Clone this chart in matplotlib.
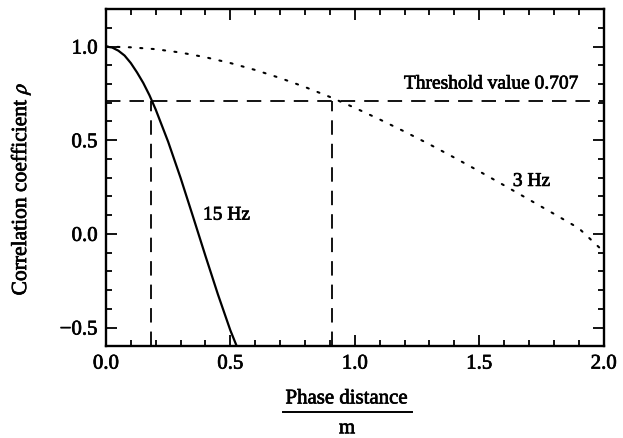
import numpy as np
import matplotlib
matplotlib.use("Agg")
import matplotlib.pyplot as plt
import matplotlib.patheffects as pe
from matplotlib.lines import Line2D
from matplotlib.ticker import MultipleLocator

plt.rcParams['font.family'] = ['Liberation Serif', 'DejaVu Serif']
plt.rcParams['mathtext.fontset'] = 'stix'

# 3 Hz curve (dotted)
x_3hz = [0.0, 0.1, 0.2, 0.3, 0.4, 0.5, 0.6, 0.7, 0.8, 0.9, 1.0,
         1.1, 1.2, 1.3, 1.4, 1.5, 1.6, 1.7, 1.8, 1.9, 2.0]
rho_3hz = [1.0, 0.996, 0.986, 0.968, 0.943, 0.912, 0.875, 0.832, 0.784, 0.731, 0.673,
           0.611, 0.546, 0.478, 0.407, 0.334, 0.259, 0.183, 0.107, 0.030, -0.095]

# 15 Hz curve (solid)
x_15hz = [0.0, 0.025, 0.05, 0.075, 0.1, 0.125, 0.15, 0.175, 0.2, 0.25,
          0.3, 0.35, 0.4, 0.45, 0.5, 0.55]
rho_15hz = [1.0, 0.995, 0.978, 0.952, 0.912, 0.862, 0.806, 0.740, 0.664, 0.492,
            0.299, 0.092, -0.118, -0.323, -0.515, -0.68]

threshold = 0.707
cross_x = [0.182, 0.91]   # where each curve meets the threshold

# scanned print looks heavier, thicken the glyphs a little
ink = [pe.withStroke(linewidth=0.5, foreground='black')]

fig = plt.figure(figsize=(6.23, 4.39), dpi=100)
ax = fig.add_axes([0.170, 0.209, 0.799, 0.768])

ax.plot(x_15hz, rho_15hz, color='black', lw=1.6, solid_capstyle='butt')
ax.plot(x_3hz, rho_3hz, color='black', lw=1.5, linestyle=(0, (1, 4.5)),
        dash_capstyle='round')

dash = (0, (8, 5))
ax.plot([0, 2.0], [threshold, threshold], color='black', lw=1.3, linestyle=dash)
for cx in cross_x:
    ax.plot([cx, cx], [-0.6, threshold], color='black', lw=1.3, linestyle=dash)

ax.text(1.90, 0.80, 'Threshold value 0.707', fontsize=14, ha='right', va='center',
        path_effects=ink)
ax.text(0.39, 0.10, '15 Hz', fontsize=14, ha='left', va='center', path_effects=ink)
ax.text(1.635, 0.28, '3 Hz', fontsize=14, ha='left', va='center', path_effects=ink)

ax.set_xlim(0, 2.0)
ax.set_ylim(-0.6, 1.2)
ax.xaxis.set_major_locator(MultipleLocator(0.5))
ax.xaxis.set_minor_locator(MultipleLocator(0.1))
ax.yaxis.set_major_locator(MultipleLocator(0.5))
ax.yaxis.set_minor_locator(MultipleLocator(0.1))
ax.set_xticks([0.0, 0.5, 1.0, 1.5, 2.0])
ax.set_xticklabels(['0.0', '0.5', '1.0', '1.5', '2.0'])
ax.set_yticks([-0.5, 0.0, 0.5, 1.0])
ax.set_yticklabels(['\u22120.5', '0.0', '0.5', '1.0'])
ax.tick_params(which='both', direction='in', top=True, right=True,
               labelsize=15, width=1.3)
ax.tick_params(which='major', length=8, pad=6)
ax.tick_params(which='minor', length=4)
for lab in ax.get_xticklabels() + ax.get_yticklabels():
    lab.set_path_effects(ink)
for sp in ax.spines.values():
    sp.set_linewidth(1.7)

# y label
fig.text(0.034, 0.567, r'Correlation coefficient $\rho$', rotation=90,
         fontsize=15.5, ha='center', va='center', path_effects=ink)

# x label written as a fraction
fig.text(0.557, 0.089, 'Phase distance', fontsize=15, ha='center', va='center',
         path_effects=ink)
fig.add_artist(Line2D([0.454, 0.661], [0.059, 0.059], color='black', lw=1.4,
                      transform=fig.transFigure))
fig.text(0.557, 0.021, 'm', fontsize=15, ha='center', va='center', path_effects=ink)

fig.savefig('out.png', dpi=100)
